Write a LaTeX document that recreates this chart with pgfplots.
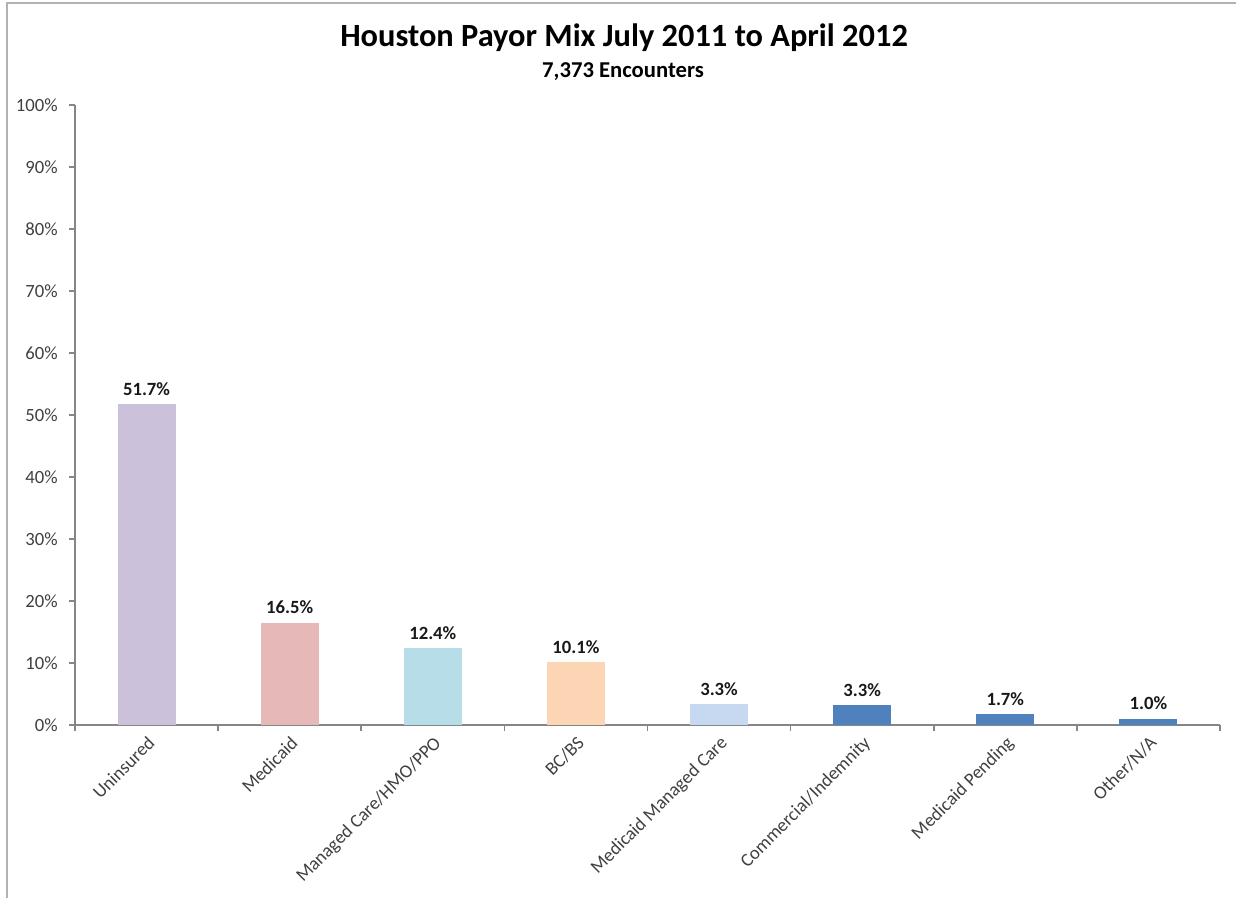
\documentclass[border=0pt]{standalone}
\usepackage{pgfplots}
\pgfplotsset{compat=1.18}
\usepackage{fontspec}
\setmainfont{Carlito}

\definecolor{axisgray}{HTML}{868686}
\definecolor{txt}{HTML}{404040}
\definecolor{cUnins}{HTML}{CCC1DA}
\definecolor{cMedic}{HTML}{E6B9B8}
\definecolor{cManag}{HTML}{B7DEE8}
\definecolor{cBCBS}{HTML}{FCD5B5}
\definecolor{cMMC}{HTML}{C6D9F1}
\definecolor{cBlue}{HTML}{4F81BD}

\begin{document}
\begin{tikzpicture}
% 1 px of the reference = 0.75pt; axis origin sits at px (75,725)
\path[use as bounding box] (-56.25pt,-129.75pt) rectangle (870.75pt,543.75pt);
\draw[gray!60, line width=1pt] (-51pt,-140pt) -- (-51pt,541.5pt) -- (880pt,541.5pt);

\begin{axis}[
    at={(0pt,0pt)}, anchor=south west,
    scale only axis,
    width=858.75pt, height=465pt,
    xmin=0.5, xmax=8.5, ymin=0, ymax=100,
    axis lines*=left,
    axis line style={axisgray, line width=1.5pt},
    ybar, bar width=43.5pt,
    xtick={1,...,8},
    xticklabels={Uninsured, Medicaid, Managed Care/HMO/PPO, BC/BS,
        Medicaid Managed Care, Commercial/Indemnity, Medicaid Pending, Other/N/A},
    major x tick style={draw=none},
    minor xtick={0.5,1.5,...,8.5},
    minor x tick style={axisgray, line width=1.2pt},
    minor tick length=4.5pt,
    ytick={0,10,...,100},
    major y tick style={axisgray, line width=1.2pt},
    major tick length=4.5pt,
    tick align=outside,
    yticklabel={\pgfmathprintnumber{\tick}\%},
    /pgf/number format/assume math mode=true,
    ticklabel style={font=\fontsize{14}{16}\selectfont, text=txt},
    yticklabel style={xshift=-5pt},
    xticklabel style={rotate=45, anchor=north east, inner sep=2pt},
    point meta=explicit symbolic,
    nodes near coords={\pgfplotspointmeta\%},
    nodes near coords style={font=\bfseries\fontsize{14}{16}\selectfont, text=black!90, anchor=south, yshift=3pt},
    every axis plot/.append style={bar shift=0pt, draw=none},
]
\addplot[fill=cUnins] coordinates {(1,51.7) [51.7]};
\addplot[fill=cMedic] coordinates {(2,16.5) [16.5]};
\addplot[fill=cManag] coordinates {(3,12.4) [12.4]};
\addplot[fill=cBCBS]  coordinates {(4,10.1) [10.1]};
\addplot[fill=cMMC]   coordinates {(5,3.4) [3.3]};
\addplot[fill=cBlue]  coordinates {(6,3.2) [3.3]};
\addplot[fill=cBlue]  coordinates {(7,1.7) [1.7]};
\addplot[fill=cBlue]  coordinates {(8,1.0) [1.0]};
\end{axis}

\node[font=\bfseries\fontsize{24.3}{28}\selectfont] at (411.75pt,515.25pt) {Houston Payor Mix July 2011 to April 2012};
\node[font=\bfseries\fontsize{17}{19}\selectfont] at (411pt,489.75pt) {7,373 Encounters};
\end{tikzpicture}
\end{document}
